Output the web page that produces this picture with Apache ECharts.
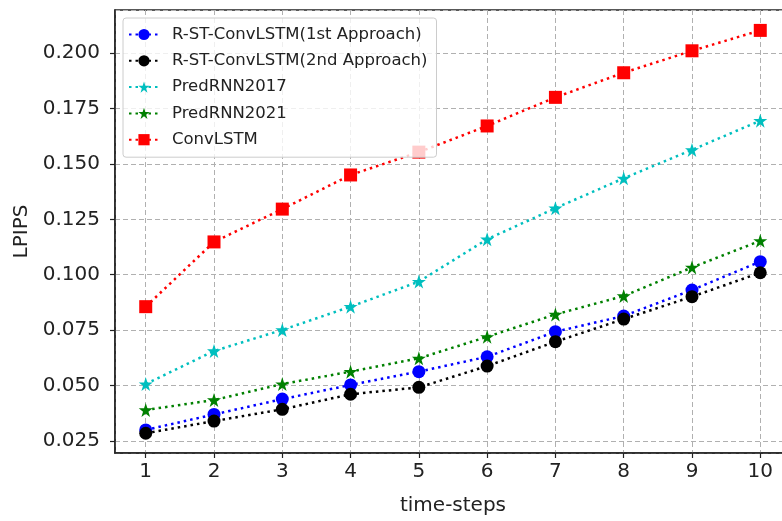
<!DOCTYPE html>
<html>
<head>
<meta charset="utf-8">
<script src="https://cdn.jsdelivr.net/npm/echarts@6/dist/echarts.min.js"></script>
<style>html,body{margin:0;padding:0;background:#fff;overflow:hidden;}#c{width:782px;height:521px;}</style>
</head>
<body>
<div id="c"></div>
<script>
const timeSteps = [1, 2, 3, 4, 5, 6, 7, 8, 9, 10];
const rst1 = [0.0300, 0.0370, 0.0439, 0.0503, 0.0563, 0.0630, 0.0743, 0.0814, 0.0931, 0.1059];
const rst2 = [0.0285, 0.0340, 0.0393, 0.0461, 0.0492, 0.0588, 0.0698, 0.0800, 0.0901, 0.1009];
const predrnn2017 = [0.0507, 0.0656, 0.0751, 0.0856, 0.0969, 0.1160, 0.1300, 0.1435, 0.1563, 0.1695];
const predrnn2021 = [0.0390, 0.0435, 0.0507, 0.0563, 0.0623, 0.0720, 0.0821, 0.0904, 0.1033, 0.1153];
const convlstm = [0.0856, 0.1148, 0.1296, 0.1450, 0.1553, 0.1671, 0.1800, 0.1911, 0.2010, 0.2102];
const seriesNames = ['R-ST-ConvLSTM(1st Approach)', 'R-ST-ConvLSTM(2nd Approach)', 'PredRNN2017', 'PredRNN2021', 'ConvLSTM'];
const yTickLabels = ['0.025', '0.050', '0.075', '0.100', '0.125', '0.150', '0.175', '0.200'];

const FONT = 'DejaVu Sans';
const pair = arr => arr.map((v, i) => [timeSteps[i], v]);
const STAR = 'path://M50,0 L61.8,35.5 L99,35.5 L68.9,57.6 L80.3,93 L50,71.1 L19.7,93 L31.1,57.6 L1,35.5 L38.2,35.5 Z';
const styles = [
  { color: '#0000ff', symbol: 'circle', size: 13 },
  { color: '#000000', symbol: 'circle', size: 13 },
  { color: '#00bfbf', symbol: STAR, size: 14 },
  { color: '#008000', symbol: STAR, size: 14 },
  { color: '#ff0000', symbol: 'rect', size: 13 }
];
const datasets = [rst1, rst2, predrnn2017, predrnn2021, convlstm];

const series = datasets.map((d, i) => ({
  name: seriesNames[i],
  type: 'line',
  data: pair(d),
  symbol: styles[i].symbol,
  symbolSize: styles[i].size,
  itemStyle: { color: styles[i].color, borderWidth: 0 },
  lineStyle: { color: styles[i].color, width: 2.5, type: [2.5, 4] },
  emphasis: { disabled: true },
  animation: false,
  z: 2 + i
}));

const chart = echarts.init(document.getElementById('c'), null, { renderer: 'canvas' });
chart.setOption({
  backgroundColor: '#ffffff',
  animation: false,
  grid: {
    left: 115, top: 10, width: 676, height: 443,
    containLabel: false,
    outerBoundsMode: 'none',
    show: true, borderColor: '#222', borderWidth: 1.5, backgroundColor: 'transparent'
  },
  legend: {
    orient: 'vertical',
    left: 123, top: 18,
    padding: [8, 9, 9, 5],
    itemGap: 9.3,
    itemWidth: 30,
    itemHeight: 14,
    backgroundColor: 'rgba(255,255,255,0.8)',
    borderColor: '#cccccc',
    borderWidth: 1,
    borderRadius: 3,
    textStyle: { fontFamily: FONT, fontSize: 16.5, color: '#222', padding: [0, 0, 0, 8] },
    data: seriesNames,
    z: 10
  },
  xAxis: {
    type: 'value',
    min: 0.55, max: 10.45,
    minInterval: 1, maxInterval: 1,
    name: 'time-steps',
    nameLocation: 'middle',
    nameGap: 43,
    nameTextStyle: { fontFamily: FONT, fontSize: 20, color: '#222' },
    axisLine: { show: true, lineStyle: { color: '#222', width: 1.5 } },
    axisTick: { show: true, length: 5, lineStyle: { color: '#222', width: 1.2 } },
    axisLabel: {
      fontFamily: FONT, fontSize: 20, color: '#222', margin: 9,
      showMinLabel: false, showMaxLabel: false,
      formatter: v => (Number.isInteger(v) && timeSteps.includes(v)) ? String(v) : ''
    },
    splitLine: { show: true, lineStyle: { color: '#b0b0b0', type: [5, 3], width: 1 } }
  },
  yAxis: {
    type: 'value',
    min: 0.0196, max: 0.2194,
    minInterval: 0.025, maxInterval: 0.025,
    name: 'LPIPS',
    nameLocation: 'middle',
    nameGap: 82,
    nameTextStyle: { fontFamily: FONT, fontSize: 20, color: '#222' },
    axisLine: { show: true, lineStyle: { color: '#222', width: 1.5 } },
    axisTick: { show: true, length: 5, lineStyle: { color: '#222', width: 1.2 } },
    axisLabel: {
      fontFamily: FONT, fontSize: 20, color: '#222', margin: 15,
      showMinLabel: false, showMaxLabel: false,
      formatter: v => {
        const s = v.toFixed(3);
        return yTickLabels.includes(s) ? s : '';
      }
    },
    splitLine: { show: true, lineStyle: { color: '#b0b0b0', type: [5, 3], width: 1 } }
  },
  series: series
});
</script>
</body>
</html>
